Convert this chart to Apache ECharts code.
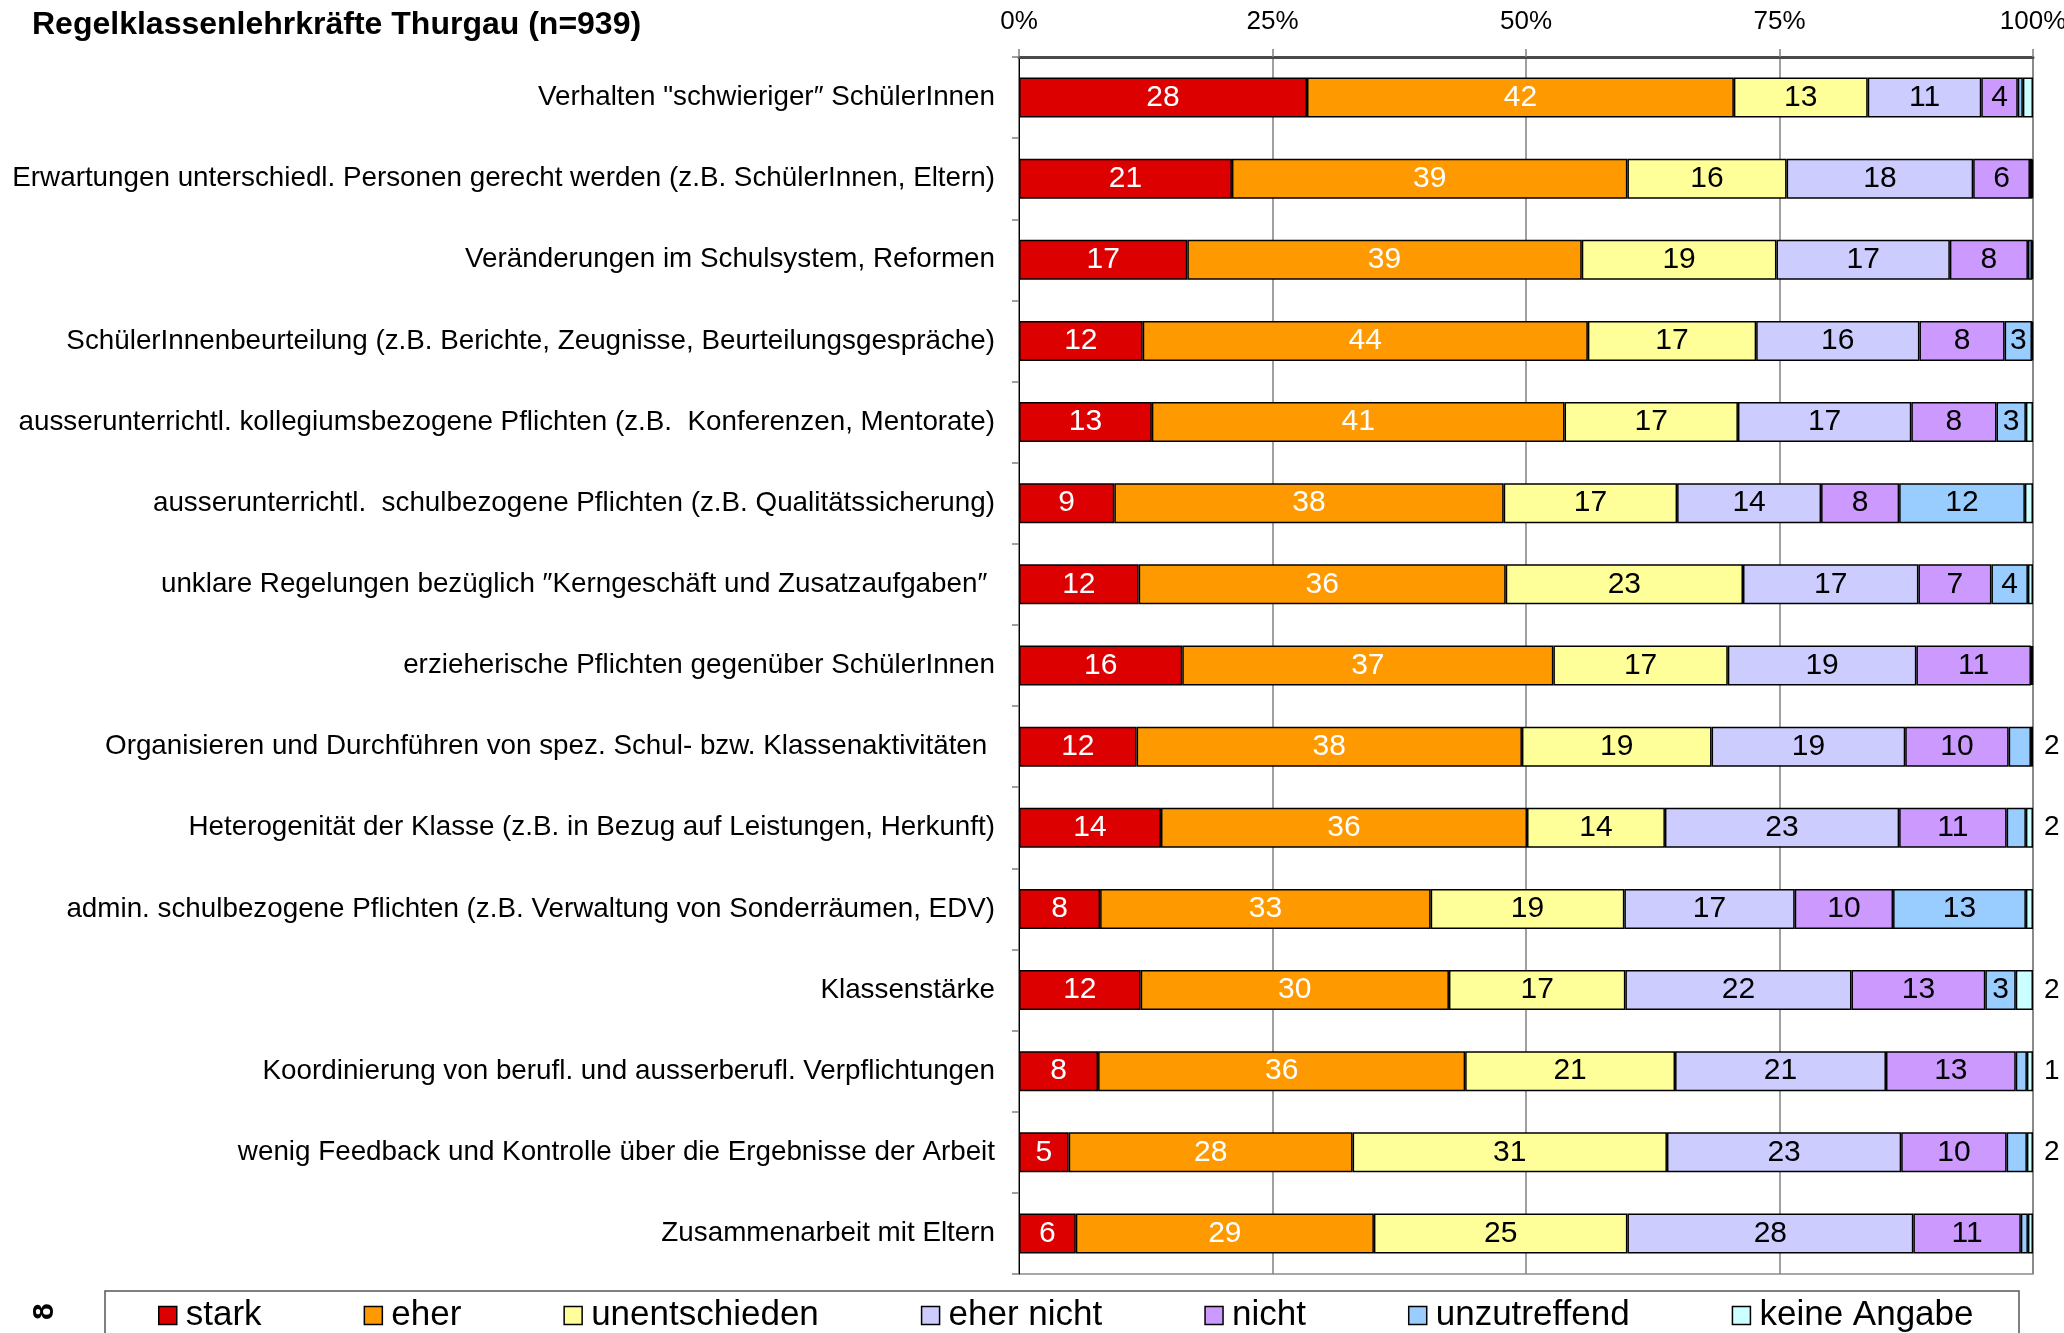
<!DOCTYPE html>
<html>
<head>
<meta charset="utf-8">
<script src="https://cdn.jsdelivr.net/npm/echarts@6/dist/echarts.min.js"></script>
<style>
  html, body { margin: 0; padding: 0; background: #fff; }
  #chart { width: 2064px; height: 1333px; }
</style>
</head>
<body>
<div id="chart"></div>
<script>
var categories = [
  'Verhalten "schwieriger″ SchülerInnen',
  'Erwartungen unterschiedl. Personen gerecht werden (z.B. SchülerInnen, Eltern)',
  'Veränderungen im Schulsystem, Reformen',
  'SchülerInnenbeurteilung (z.B. Berichte, Zeugnisse, Beurteilungsgespräche)',
  'ausserunterrichtl. kollegiumsbezogene Pflichten (z.B.  Konferenzen, Mentorate)',
  'ausserunterrichtl.  schulbezogene Pflichten (z.B. Qualitätssicherung)',
  'unklare Regelungen bezüglich ″Kerngeschäft und Zusatzaufgaben″ ',
  'erzieherische Pflichten gegenüber SchülerInnen',
  'Organisieren und Durchführen von spez. Schul- bzw. Klassenaktivitäten ',
  'Heterogenität der Klasse (z.B. in Bezug auf Leistungen, Herkunft)',
  'admin. schulbezogene Pflichten (z.B. Verwaltung von Sonderräumen, EDV)',
  'Klassenstärke',
  'Koordinierung von berufl. und ausserberufl. Verpflichtungen',
  'wenig Feedback und Kontrolle über die Ergebnisse der Arbeit',
  'Zusammenarbeit mit Eltern'
];

var stark          = [28.4, 21.0, 16.6, 12.2, 13.1,  9.4, 11.8, 16.1, 11.6, 14.0,  8.0, 12.0,  7.8,  4.9,  5.6];
var eher           = [42.1, 39.0, 38.9, 43.9, 40.7, 38.4, 36.2, 36.6, 38.0, 36.1, 32.6, 30.4, 36.2, 28.0, 29.4];
var unentschieden  = [13.2, 15.7, 19.2, 16.6, 17.1, 17.1, 23.4, 17.2, 18.7, 13.6, 19.1, 17.4, 20.7, 31.0, 25.0];
var eherNicht      = [11.2, 18.4, 17.1, 16.1, 17.1, 14.2, 17.3, 18.6, 19.1, 23.1, 16.8, 22.3, 20.8, 23.1, 28.2];
var nicht          = [ 3.6,  5.6,  7.7,  8.4,  8.4,  7.7,  7.2, 11.3, 10.2, 10.6,  9.7, 13.2, 12.8, 10.4, 10.6];
var unzutreffend   = [ 0.5,  0.2,  0.4,  2.7,  2.9, 12.4,  3.6,  0.1,  2.2,  1.9, 13.1,  3.0,  1.1,  2.0,  0.7];
var keineAngabe    = [ 1.0,  0.1,  0.1,  0.1,  0.7,  0.8,  0.5,  0.1,  0.2,  0.7,  0.7,  1.7,  0.6,  0.6,  0.5];
// small shares written beside the bar
var sideLabels     = ['', '', '', '', '', '', '', '', '2', '2', '', '2', '1', '2', ''];

var xTicks = [0, 25, 50, 75, 100];

var narrow = "'Liberation Sans Narrow', 'Arial Narrow', 'Liberation Sans', sans-serif";

var chart = echarts.init(document.getElementById('chart'));

function seg(name, data, color, textColor) {
  return {
    name: name,
    type: 'bar',
    stack: 'total',
    barWidth: 40,
    data: data,
    itemStyle: { color: color, borderColor: '#000', borderWidth: 1.5 },
    label: {
      show: true,
      position: 'inside',
      color: textColor,
      fontFamily: narrow,
      fontSize: 30,
      formatter: function (p) {
        return p.value >= 2.5 ? Math.round(p.value) : '';
      }
    },
    emphasis: { disabled: true }
  };
}

var series = [
  seg('stark', stark, '#DD0000', '#fff'),
  seg('eher', eher, '#FF9900', '#fff'),
  seg('unentschieden', unentschieden, '#FFFF99', '#000'),
  seg('eher nicht', eherNicht, '#CCCCFF', '#000'),
  seg('nicht', nicht, '#CC99FF', '#000'),
  seg('unzutreffend', unzutreffend, '#99CCFF', '#000'),
  seg('keine Angabe', keineAngabe, '#CCFFFF', '#000')
];
series[6].label = {
  show: true,
  position: 'right',
  distance: 11,
  color: '#000',
  fontFamily: "'Liberation Sans', Arial, sans-serif",
  fontSize: 28,
  formatter: function (p) { return sideLabels[p.dataIndex]; }
};

var option = {
  animation: false,
  backgroundColor: '#fff',
  title: {
    text: 'Regelklassenlehrkräfte Thurgau (n=939)',
    left: 27,
    top: 4,
    textStyle: { fontFamily: narrow, fontWeight: 'bold', fontSize: 32, color: '#000' }
  },
  grid: {
    left: 1019,
    right: 31,
    top: 57,
    bottom: 59,
    outerBoundsMode: 'none',
    containLabel: false,
    show: true,
    borderColor: '#8c8c8c',
    borderWidth: 1.5
  },
  legend: {
    left: 158,
    top: 1298,
    padding: 0,
    icon: 'rect',
    itemWidth: 18,
    itemHeight: 18,
    itemGap: 102,
    itemStyle: { borderColor: '#000', borderWidth: 1.5 },
    textStyle: { fontFamily: narrow, fontSize: 35, color: '#000', padding: [0, 0, 0, 4] },
    data: series.map(function (s) { return s.name; })
  },
  xAxis: {
    type: 'value',
    position: 'top',
    min: 0,
    max: 100,
    interval: 25,
    axisLine: { show: true, lineStyle: { color: '#4a4a4a', width: 3 } },
    axisTick: { show: true, length: 8, lineStyle: { color: '#808080', width: 1.5 } },
    axisLabel: {
      margin: 22,
      fontFamily: narrow,
      fontSize: 26,
      color: '#000',
      formatter: '{value}%',
      customValues: xTicks
    },
    splitLine: { show: true, lineStyle: { color: '#808080', width: 1.5 } }
  },
  yAxis: {
    type: 'category',
    inverse: true,
    data: categories,
    axisLine: { show: true, lineStyle: { color: '#000', width: 1 } },
    axisTick: { show: true, length: 7, lineStyle: { color: '#808080', width: 1.5 } },
    axisLabel: {
      margin: 24,
      fontFamily: narrow,
      fontSize: 27.8,
      color: '#000'
    },
    splitLine: { show: false }
  },
  graphic: [
    {
      type: 'rect',
      shape: { x: 105, y: 1291, width: 1914, height: 100 },
      style: { fill: 'none', stroke: '#555', lineWidth: 1.5 },
      z: -1
    },
    {
      type: 'text',
      x: 30,
      y: 1320,
      rotation: Math.PI / 2,
      style: { text: '8', font: "bold 30px 'Liberation Sans', Arial, sans-serif", fill: '#000' }
    }
  ],
  series: series
};

chart.setOption(option);
</script>
</body>
</html>
